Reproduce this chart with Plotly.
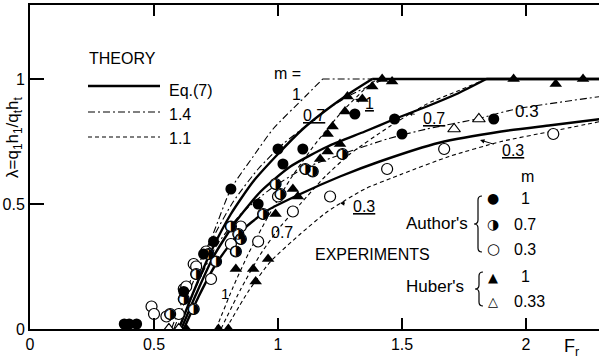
import plotly.graph_objects as go

# ---------------- data ----------------
# Theory curves: Eq.(7) (solid), 1.4 (dash-dot), 1.1 (dashed) for m = 1, 0.7, 0.3
eq7_m1_x = [0.60, 0.66, 0.73, 0.81, 0.90, 1.00, 1.10, 1.20, 1.30, 1.38, 2.30]
eq7_m1_y = [0.00, 0.15, 0.31, 0.46, 0.59, 0.70, 0.80, 0.88, 0.95, 1.00, 1.00]
eq7_m07_x = [0.61, 0.67, 0.74, 0.83, 0.93, 1.05, 1.20, 1.35, 1.47, 1.60, 1.72, 1.84, 2.30]
eq7_m07_y = [0.00, 0.14, 0.29, 0.43, 0.55, 0.65, 0.73, 0.79, 0.84, 0.89, 0.94, 1.00, 1.00]
eq7_m03_x = [0.62, 0.68, 0.75, 0.84, 0.95, 1.09, 1.25, 1.41, 1.65, 1.90, 2.10, 2.30]
eq7_m03_y = [0.00, 0.13, 0.26, 0.38, 0.47, 0.54, 0.61, 0.67, 0.745, 0.79, 0.815, 0.84]

c14_m1_x = [0.57, 0.65, 0.73, 0.81, 0.90, 0.98, 1.11, 1.18, 2.30]
c14_m1_y = [0.00, 0.20, 0.36, 0.56, 0.69, 0.80, 0.93, 1.00, 1.00]
c14_m07_x = [0.58, 0.65, 0.73, 0.82, 0.92, 1.02, 1.11, 1.20, 1.30, 1.43, 2.30]
c14_m07_y = [0.00, 0.17, 0.35, 0.51, 0.64, 0.74, 0.81, 0.88, 0.94, 1.00, 1.00]
c14_m03_x = [0.60, 0.67, 0.75, 0.85, 0.97, 1.10, 1.26, 1.44, 1.60, 1.80, 1.96, 2.30]
c14_m03_y = [0.00, 0.17, 0.33, 0.46, 0.56, 0.64, 0.70, 0.76, 0.80, 0.84, 0.88, 0.93]

c11_m1_x = [0.75, 0.82, 0.88, 0.96, 1.05, 1.15, 1.25, 1.35, 1.40, 2.30]
c11_m1_y = [0.00, 0.17, 0.30, 0.45, 0.60, 0.74, 0.86, 0.96, 1.00, 1.00]
c11_m07_x = [0.77, 0.85, 0.93, 1.01, 1.09, 1.19, 1.29, 1.45, 1.60, 1.72, 1.84, 2.30]
c11_m07_y = [0.00, 0.16, 0.30, 0.41, 0.50, 0.61, 0.70, 0.81, 0.90, 0.95, 1.00, 1.00]
c11_m03_x = [0.79, 0.88, 0.97, 1.09, 1.20, 1.35, 1.50, 1.69, 1.90, 2.10, 2.30]
c11_m03_y = [0.00, 0.15, 0.27, 0.38, 0.47, 0.56, 0.62, 0.69, 0.75, 0.79, 0.83]

# Experiments
authors_m1_x = [0.38, 0.40, 0.43, 0.62, 0.70, 0.74, 0.81, 0.92, 1.00, 1.02, 1.10, 1.31, 1.47, 1.50, 1.87]
authors_m1_y = [0.02, 0.02, 0.02, 0.15, 0.30, 0.35, 0.56, 0.50, 0.72, 0.66, 0.72, 0.86, 0.84, 0.78, 0.84]
authors_m07_x = [0.565, 0.62, 0.66, 0.67, 0.72, 0.75, 0.81, 0.83, 0.84, 0.85, 0.94, 0.99, 1.01, 1.11, 1.14, 1.26]
authors_m07_y = [0.06, 0.12, 0.08, 0.22, 0.30, 0.27, 0.41, 0.31, 0.38, 0.36, 0.46, 0.58, 0.54, 0.64, 0.63, 0.70]
authors_m03_x = [0.49, 0.50, 0.55, 0.60, 0.62, 0.63, 0.66, 0.67, 0.71, 0.73, 0.81, 0.85, 0.92, 1.00, 1.06, 1.21, 1.44, 1.67, 2.11]
authors_m03_y = [0.09, 0.06, 0.05, 0.06, 0.16, 0.17, 0.26, 0.25, 0.31, 0.20, 0.34, 0.41, 0.35, 0.53, 0.47, 0.53, 0.64, 0.72, 0.78]
huber_m1_x = [0.63, 0.76, 0.80, 0.83, 0.90, 0.91, 0.96, 0.99, 1.06, 1.08, 1.17, 1.20, 1.20, 1.22, 1.25,
              1.27, 1.28, 1.34, 1.38, 1.42, 1.46, 1.95, 2.12, 2.23]
huber_m1_y = [0.00, 0.00, 0.00, 0.24, 0.24, 0.19, 0.28, 0.46, 0.56, 0.53, 0.68, 0.71, 0.78, 0.81, 0.74,
              0.87, 0.93, 0.92, 0.97, 1.00, 0.99, 1.00, 0.98, 1.00]
huber_m033_x = [0.56, 0.60, 1.71, 1.81]
huber_m033_y = [0.00, 0.00, 0.80, 0.84]

x_ticks = [0, 0.5, 1, 1.5, 2]
x_ticktext = ["0", "0.5", "1", "1.5", "2"]
y_ticks = [0, 0.5, 1]
y_ticktext = ["0", "0.5", "1"]

# ---------------- figure ----------------
W, H = 599, 363
ML, MR, MT, MB = 30, 0, 5, 34
PW, PH = W - ML - MR, H - MT - MB
XR = [0, PW / 248.0]
YR = [0, PH / 250.0]

FONT = "Liberation Sans, Arial, sans-serif"
SYM = "DejaVu Sans"

fig = go.Figure()

solid = dict(color="black", width=2.4)
dashdot = dict(color="black", width=1.1, dash="7px,3px,2px,3px")
dashed = dict(color="black", width=1.1, dash="4px,3px")


def add_curve(xs, ys, ln):
    # rising part drawn smooth, saturated part (lambda = 1) drawn straight
    k = next((i for i, v in enumerate(ys) if v >= 1.0), len(ys) - 1)
    fig.add_trace(go.Scatter(x=xs[:k + 1], y=ys[:k + 1], mode="lines",
                             line=dict(shape="spline", smoothing=0.6, **ln), hoverinfo="skip"))
    if k < len(ys) - 1:
        fig.add_trace(go.Scatter(x=xs[k:], y=ys[k:], mode="lines", line=dict(shape="linear", **ln),
                                 hoverinfo="skip"))


for xs, ys, ln in [
    (c14_m1_x, c14_m1_y, dashdot), (c14_m07_x, c14_m07_y, dashdot), (c14_m03_x, c14_m03_y, dashdot),
    (c11_m1_x, c11_m1_y, dashed), (c11_m07_x, c11_m07_y, dashed), (c11_m03_x, c11_m03_y, dashed),
    (eq7_m1_x, eq7_m1_y, solid), (eq7_m07_x, eq7_m07_y, solid), (eq7_m03_x, eq7_m03_y, solid),
]:
    add_curve(xs, ys, ln)

fig.add_trace(go.Scatter(x=authors_m03_x, y=authors_m03_y, mode="markers",
                         marker=dict(symbol="circle", size=11, color="white", line=dict(color="black", width=1.2))))
fig.add_trace(go.Scatter(x=authors_m07_x, y=authors_m07_y, mode="markers",
                         marker=dict(symbol="circle", size=11, color="white", line=dict(color="black", width=1.2))))
fig.add_trace(go.Scatter(x=authors_m07_x, y=authors_m07_y, mode="text", text=["◑"] * len(authors_m07_x),
                         textposition="middle center", textfont=dict(family=SYM, size=14, color="black")))
fig.add_trace(go.Scatter(x=authors_m1_x, y=authors_m1_y, mode="markers",
                         marker=dict(symbol="circle", size=11, color="black")))
fig.add_trace(go.Scatter(x=huber_m033_x, y=huber_m033_y, mode="markers",
                         marker=dict(symbol="triangle-up", size=11, color="white", line=dict(color="black", width=1.2))))
fig.add_trace(go.Scatter(x=huber_m1_x, y=huber_m1_y, mode="markers",
                         marker=dict(symbol="triangle-up", size=11, color="black")))


def px(p):
    return (p - ML) / PW


def py(p):
    return (H - MB - p) / PH


ann = []


def txt(t, x, y, size=16, anchor="center", font=FONT, angle=0):
    ann.append(dict(text=t, x=px(x), y=py(y), xref="paper", yref="paper", showarrow=False,
                    xanchor=anchor, yanchor="middle", textangle=angle,
                    font=dict(family=font, size=size, color="black")))


def arr(t, tipx, tipy, tx, ty, size=16):
    ann.append(dict(text=t, x=px(tipx), y=py(tipy), xref="paper", yref="paper", showarrow=True,
                    ax=tx - tipx, ay=ty - tipy, arrowhead=2, arrowsize=0.9, arrowwidth=1,
                    arrowcolor="black", standoff=0, startstandoff=7,
                    font=dict(family=FONT, size=size, color="black")))


# Theory legend
txt("THEORY", 122, 59, 16)
txt("Eq.(7)", 167, 91, 16, "left")
txt("1.4", 167, 114, 16, "left")
txt("1.1", 167, 138, 16, "left")
# curve labels
txt("m =", 287, 74, 16)
txt("1", 296, 94, 16)
arr("<u>0.7</u>", 303, 128, 314, 115)
arr("<u>1</u>", 355, 99, 369, 104)
arr("<u>0.7</u>", 408, 113, 434, 118)
txt("0.3", 527, 111, 17)
arr("<u>0.3</u>", 480, 140, 513, 150)
arr("<u>0.3</u>", 340, 203, 364, 206)
txt("0.7", 282, 232, 16)
arr("1", 222, 306, 225, 293, 15)
# experiments legend
txt("m", 527, 176, 16)
txt("Author's", 437, 223, 17)
txt("●", 493, 198, 14, font=SYM)
txt("◑", 493, 224, 14, font=SYM)
txt("○", 493, 249, 15, font=SYM)
txt("1", 525, 198, 16)
txt("0.7", 525, 224, 16)
txt("0.3", 525, 249, 16)
txt("EXPERIMENTS", 372, 254, 16)
txt("Huber's", 435, 286, 17)
txt("▲", 493, 277, 13, font=SYM)
txt("△", 493, 301, 13, font=SYM)
txt("1", 525, 276, 16)
txt("0.33", 529, 301, 16)
# axis titles
txt("F<sub>r</sub>", 571, 347, 18)
txt("λ=q<sub>1</sub>h<sub>1</sub>/q<sub>t</sub>h<sub>t</sub>", 14, 137, 17, angle=-90)


def px_path(pts):
    out = []
    for cmd, vals in pts:
        cs = []
        for i in range(0, len(vals), 2):
            cs.append("%.5f,%.5f" % (px(vals[i]), py(vals[i + 1])))
        out.append(cmd + " " + " ".join(cs))
    return " ".join(out)


def brace(xc, top, bot):
    mid = (top + bot) / 2
    return px_path([("M", [xc + 4, top]), ("Q", [xc, top, xc, top + 4]), ("L", [xc, mid - 4]),
                    ("Q", [xc, mid, xc - 4, mid]), ("Q", [xc, mid, xc, mid + 4]), ("L", [xc, bot - 4]),
                    ("Q", [xc, bot, xc + 4, bot])])


def hline(x0, x1, y, ln):
    return dict(type="line", xref="paper", yref="paper", x0=px(x0), x1=px(x1), y0=py(y), y1=py(y), line=ln)


shapes = [
    hline(88, 160, 86, solid),
    hline(88, 160, 112, dashdot),
    hline(88, 160, 137, dashed),
    dict(type="path", xref="paper", yref="paper", path=brace(478, 196, 252), line=dict(color="black", width=1.2)),
    dict(type="path", xref="paper", yref="paper", path=brace(479, 272, 306), line=dict(color="black", width=1.2)),
]

fig.update_layout(
    width=W, height=H, margin=dict(l=ML, r=MR, t=MT, b=MB, pad=0),
    plot_bgcolor="white", paper_bgcolor="white", showlegend=False,
    annotations=ann, shapes=shapes,
    font=dict(family=FONT, size=16, color="black"),
    xaxis=dict(range=XR, tickvals=x_ticks, ticktext=x_ticktext, ticks="inside", ticklen=11, tickwidth=1.5,
               tickcolor="black", showline=True, linecolor="black", linewidth=2, mirror="allticks",
               showgrid=False, zeroline=False, tickfont=dict(family=FONT, size=16)),
    yaxis=dict(range=YR, tickvals=y_ticks, ticktext=y_ticktext, ticks="inside", ticklen=14, tickwidth=1.5,
               tickcolor="black", showline=True, linecolor="black", linewidth=2, mirror=False,
               showgrid=False, zeroline=False, tickfont=dict(family=FONT, size=16)),
)

fig.write_html("out.html")
